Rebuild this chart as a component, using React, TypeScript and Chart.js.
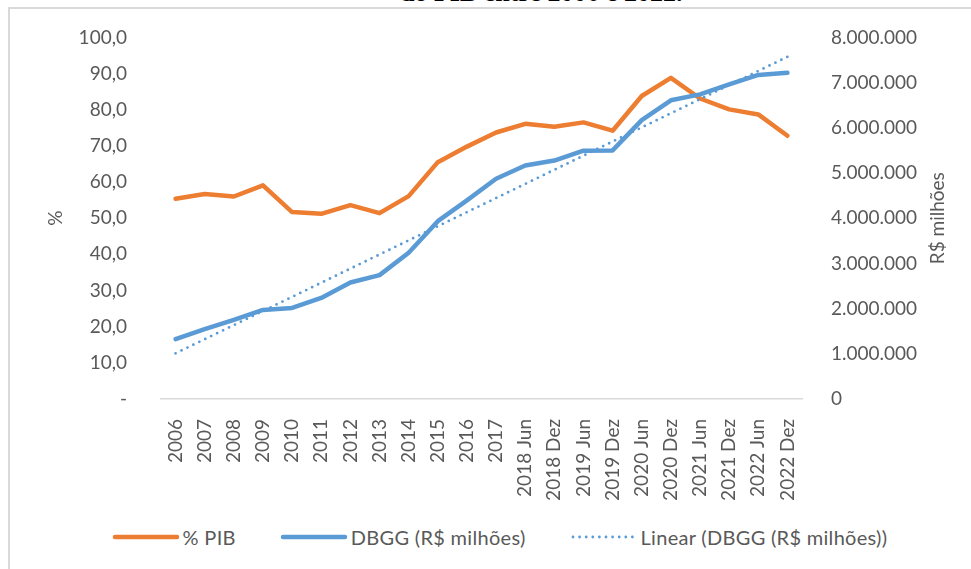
import React, { useEffect, useRef } from 'react';
import { Chart, registerables } from 'chart.js';

Chart.register(...registerables);

// ---- Data ----
const categories = [
  '2006', '2007', '2008', '2009', '2010', '2011', '2012', '2013', '2014', '2015', '2016', '2017',
  '2018 Jun', '2018 Dez', '2019 Jun', '2019 Dez', '2020 Jun', '2020 Dez', '2021 Jun', '2021 Dez',
  '2022 Jun', '2022 Dez',
];

// % PIB (left axis)
const pctPib = [
  55.4, 56.7, 56.0, 59.1, 51.7, 51.2, 53.6, 51.4, 56.1, 65.5, 69.8, 73.7,
  76.1, 75.3, 76.5, 74.2, 83.8, 88.8, 83.1, 80.1, 78.7, 72.8,
];

// DBGG in R$ milhões (right axis)
const dbgg = [
  1325000, 1545000, 1751000, 1971000, 2015000, 2235000, 2578000, 2740000, 3237000, 3934000,
  4396000, 4872000, 5165000, 5275000, 5495000, 5500000, 6169000, 6608000, 6740000, 6960000,
  7170000, 7216000,
];

// Linear trendline of DBGG: values read at the first and last category
const trendStart = 1010000;
const trendEnd = 7570000;

const leftTickLabels = ['-', '10,0', '20,0', '30,0', '40,0', '50,0', '60,0', '70,0', '80,0', '90,0', '100,0'];
const rightTickLabels = ['0', '1.000.000', '2.000.000', '3.000.000', '4.000.000', '5.000.000', '6.000.000', '7.000.000', '8.000.000'];

const seriesNames = ['% PIB', 'DBGG (R$ milhões)', 'Linear (DBGG (R$ milhões))'];
const leftTitle = '%';
const rightTitle = 'R$ milhões';
const captionText = 'do PIB entre 2006 e 2022.';

const ORANGE = '#ED7D31';
const BLUE = '#5B9BD5';
const GRAY = '#595959';
const FONT = 'Lato';
const FS = 19;

export default function App() {
  const ref = useRef<HTMLCanvasElement>(null);

  useEffect(() => {
    const canvas = ref.current;
    if (!canvas) return;

    const trend = categories.map((_, i) =>
      i === 0 ? trendStart : i === categories.length - 1 ? trendEnd : null
    );

    const rightTitlePlugin = {
      id: 'rightTitle',
      afterDraw(chart: any) {
        const s = chart.scales.y1;
        const ctx = chart.ctx;
        ctx.save();
        ctx.translate(s.right - 33, (chart.chartArea.top + chart.chartArea.bottom) / 2);
        ctx.rotate(-Math.PI / 2);
        ctx.font = `${FS}px ${FONT}`;
        ctx.fillStyle = GRAY;
        ctx.textAlign = 'center';
        ctx.textBaseline = 'middle';
        ctx.fillText(rightTitle, 0, 0);
        ctx.restore();
      },
    };

    const font = { family: FONT, size: FS };

    const chart = new Chart(canvas, {
      type: 'line',
      data: {
        labels: categories,
        datasets: [
          {
            label: seriesNames[0],
            data: pctPib,
            yAxisID: 'y',
            borderColor: ORANGE,
            backgroundColor: ORANGE,
            borderWidth: 4.5,
            pointRadius: 0,
            borderJoinStyle: 'round',
            borderCapStyle: 'round',
            tension: 0,
            order: 2,
          },
          {
            label: seriesNames[1],
            data: dbgg,
            yAxisID: 'y1',
            borderColor: BLUE,
            backgroundColor: BLUE,
            borderWidth: 4.5,
            pointRadius: 0,
            borderJoinStyle: 'round',
            borderCapStyle: 'round',
            tension: 0,
            order: 1,
          },
          {
            label: seriesNames[2],
            data: trend as any,
            yAxisID: 'y1',
            borderColor: BLUE,
            backgroundColor: BLUE,
            borderWidth: 2.8,
            borderDash: [0, 6.6],
            borderCapStyle: 'round',
            pointRadius: 0,
            spanGaps: true,
            tension: 0,
            order: 0,
          },
        ],
      },
      options: {
        responsive: false,
        animation: false,
        events: [],
        layout: { padding: { top: 35, left: 0, right: 0, bottom: 0 } },
        plugins: {
          legend: { display: false },
          tooltip: { enabled: false },
          title: { display: false },
        },
        scales: {
          x: {
            offset: true,
            grid: { display: false },
            border: { display: true, color: '#D9D9D9', width: 1.5 },
            ticks: {
              autoSkip: false,
              minRotation: 90,
              maxRotation: 90,
              padding: 12,
              color: GRAY,
              font,
            },
            afterFit: (s: any) => {
              s.height = 121;
            },
          },
          y: {
            position: 'left',
            min: 0,
            max: 100,
            grid: { display: false },
            border: { display: false },
            ticks: {
              stepSize: 10,
              padding: 26,
              color: GRAY,
              font,
              callback: (v: any) => leftTickLabels[Math.round(Number(v) / 10)],
            },
            title: {
              display: true,
              text: leftTitle,
              color: GRAY,
              font,
              padding: { top: 44, bottom: 0 },
            },
            afterFit: (s: any) => {
              s.width = 161;
            },
          },
          y1: {
            position: 'right',
            min: 0,
            max: 8000000,
            grid: { display: false },
            border: { display: false },
            ticks: {
              stepSize: 1000000,
              padding: 21,
              color: GRAY,
              font,
              callback: (v: any) => rightTickLabels[Math.round(Number(v) / 1000000)],
            },
            afterFit: (s: any) => {
              s.width = 169;
            },
          },
        },
      } as any,
      plugins: [rightTitlePlugin],
    });

    return () => chart.destroy();
  }, []);

  const legendStyles = [
    { color: ORANGE, width: 4.5, dash: undefined as string | undefined },
    { color: BLUE, width: 4.5, dash: undefined as string | undefined },
    { color: BLUE, width: 2.8, dash: '0 6.6' },
  ];

  return (
    <div
      style={{
        position: 'fixed',
        left: 0,
        top: 0,
        width: 971,
        height: 569,
        overflow: 'hidden',
        background: '#fff',
      }}
    >
      <div
        style={{
          position: 'absolute',
          left: 400,
          top: -20,
          font: 'bold 26px "Liberation Serif"',
          lineHeight: '26px',
          whiteSpace: 'nowrap',
          color: '#000',
        }}
      >
        {captionText}
      </div>
      <div
        style={{
          position: 'absolute',
          left: 8,
          top: 7,
          width: 1200,
          height: 800,
          border: '2px solid #D9D9D9',
          boxSizing: 'border-box',
        }}
      />
      <canvas
        ref={ref}
        width={971}
        height={520}
        style={{ position: 'absolute', left: 0, top: 0, width: 971, height: 520 }}
      />
      <div
        style={{
          position: 'absolute',
          left: 0,
          top: 524,
          width: 999,
          height: 26,
          display: 'flex',
          justifyContent: 'center',
          alignItems: 'center',
          gap: 44,
          font: `20px ${FONT}`,
          letterSpacing: '0.3px',
          color: GRAY,
          whiteSpace: 'nowrap',
        }}
      >
        {seriesNames.map((name, i) => (
          <div key={name} style={{ display: 'flex', alignItems: 'center' }}>
            <svg width={68} height={10} style={{ display: 'block' }}>
              <line
                x1={3}
                y1={5}
                x2={65}
                y2={5}
                stroke={legendStyles[i].color}
                strokeWidth={legendStyles[i].width}
                strokeLinecap="round"
                strokeDasharray={legendStyles[i].dash}
              />
            </svg>
            <span style={{ marginLeft: 3 }}>{name}</span>
          </div>
        ))}
      </div>
    </div>
  );
}
